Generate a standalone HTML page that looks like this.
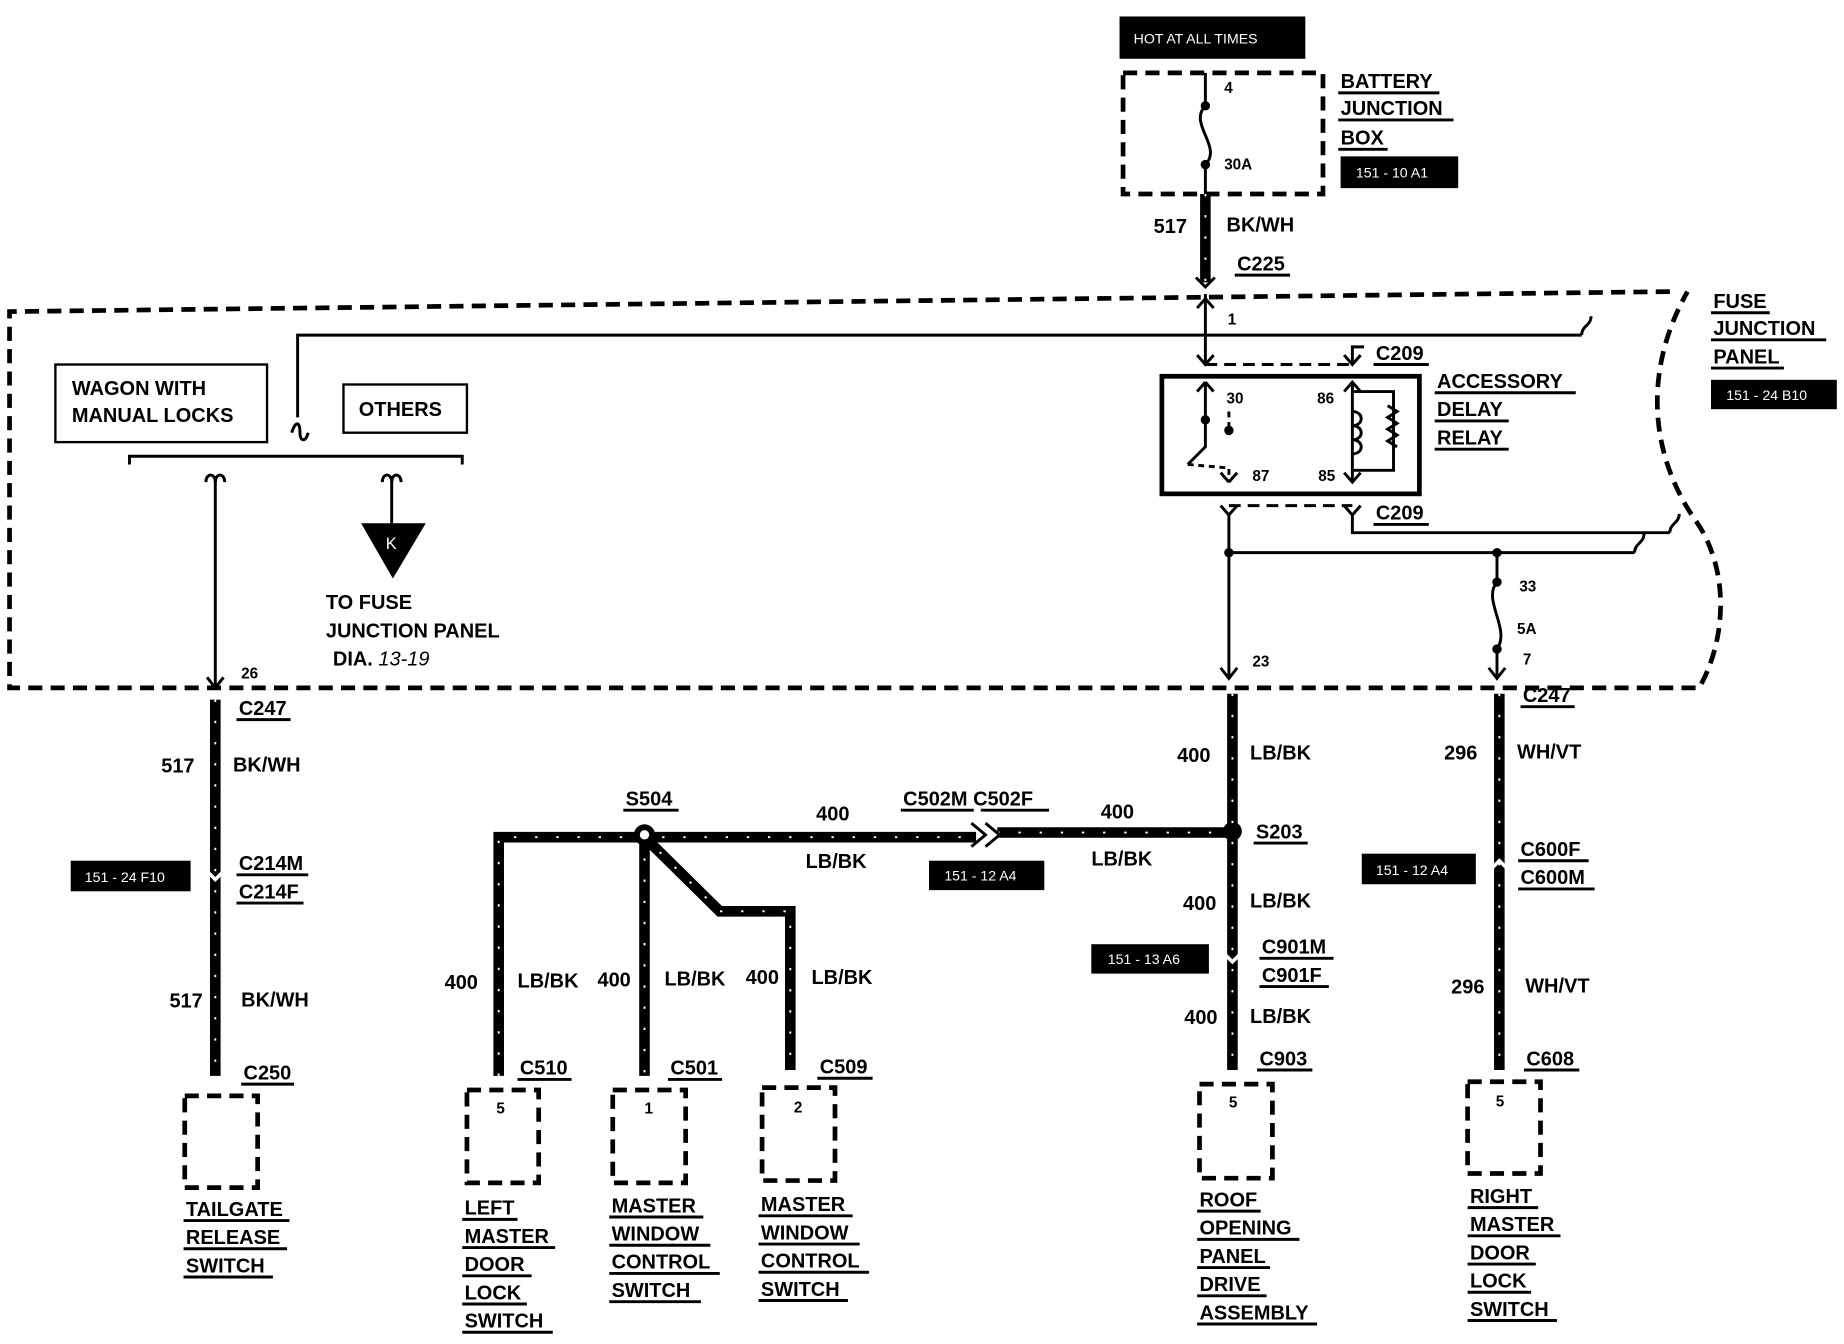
<!DOCTYPE html>
<html><head><meta charset="utf-8"><style>
html,body{margin:0;padding:0;background:#fff;}
svg{display:block}
text{font-family:"Liberation Sans",Arial,sans-serif;font-weight:bold;fill:#000;}
.t{font-size:17px;}
.s{font-size:13px;}
.w{fill:#fff;font-size:12px;font-weight:normal;}
.wire{stroke:#000;stroke-width:9;fill:none;}
.dash{stroke:#fff;stroke-width:1.6;stroke-dasharray:2 16;fill:none;}
.thin{stroke:#000;stroke-width:2.5;fill:none;}
.db{stroke:#000;stroke-width:4;stroke-dasharray:12 7;fill:none;}
</style></head><body>
<svg width="1844" height="1344" viewBox="0 0 1568 1143" xmlns="http://www.w3.org/2000/svg">
<rect x="952" y="14" width="158" height="36" fill="#000"/>
<text x="964" y="37" class="w">HOT AT ALL TIMES</text>
<rect x="955" y="62" width="170" height="103" class="db"/>
<path d="M1025 62 V90 M1025 140 V240" class="thin"/>
<path d="M1025 90 C1010 105 1040 125 1025 140" class="thin"/>
<circle cx="1025" cy="90" r="4"/><circle cx="1025" cy="140" r="4"/>
<text x="1041" y="79" class="s">4</text><text x="1041" y="144" class="s">30A</text>
<text x="1140" y="75" class="t">BATTERY</text><text x="1140" y="98" class="t">JUNCTION</text><text x="1140" y="123" class="t">BOX</text>
<path d="M1138 79H1224 M1138 102H1236 M1138 127H1180" class="thin" stroke-width="1.5"/>
<rect x="1140" y="133" width="100" height="27" fill="#000"/><text x="1153" y="151" class="w">151 - 10 A1</text>
<path d="M1025 165V240" class="wire"/><path d="M1025 165V240" class="dash"/>
<text x="981" y="198" class="t">517</text><text x="1043" y="197" class="t">BK/WH</text>
<text x="1052" y="230" class="t">C225</text><path d="M1050 234H1097" class="thin" stroke-width="1.5"/>
<path d="M1017 236 L1025 244 L1033 236" class="thin"/>
<path d="M1420 248 L8 265 V585 H1445 C1470 540 1470 480 1440 440 C1400 380 1400 310 1435 248" class="db"/>
<text x="1457" y="262" class="t">FUSE</text><text x="1457" y="285" class="t">JUNCTION</text><text x="1457" y="309" class="t">PANEL</text>
<path d="M1455 266H1505 M1455 289H1553 M1455 313H1517" class="thin" stroke-width="1.5"/>
<rect x="1455" y="323" width="107" height="25" fill="#000"/><text x="1468" y="340" class="w">151 - 24 B10</text>
<path d="M1025 250 V310" class="thin"/><path d="M1018 262 L1025 254 L1032 262" class="thin"/>
<text x="1044" y="276" class="s">1</text>
<path d="M253 355 V285 H1345" class="thin"/><path d="M1345 285 c0 -8 8 -8 8 -16" class="thin"/>
<path d="M248 368 c3 -10 7 -10 7 0 c0 8 5 8 7 0" class="thin"/>
<path d="M1025 310 H1150" class="thin" stroke-dasharray="10 6"/>
<path d="M1150 310 V295 H1160" class="thin"/>
<path d="M1018 302 L1025 310 L1032 302 M1143 302 L1150 310 L1157 302" class="thin"/>
<text x="1170" y="306" class="t">C209</text><path d="M1168 310H1215" class="thin" stroke-width="1.5"/>
<rect x="988" y="320" width="219" height="100" fill="none" stroke="#000" stroke-width="4"/>
<path d="M1025 325 V380 L1010 395 M1025 325 L1018 333 M1025 325 L1032 333" class="thin"/>
<circle cx="1025" cy="357" r="4"/><circle cx="1045" cy="366" r="4"/>
<path d="M1045 350 V366 M1010 395 L1045 398 V410" class="thin" stroke-dasharray="5 4"/>
<path d="M1045 410 L1038 402 M1045 410 L1052 402" class="thin"/>
<path d="M1150 325 V410 M1150 333 H1185 V400 H1150" class="thin"/>
<path d="M1150 350 c10 0 10 12 0 12 c10 0 10 12 0 12 c10 0 10 12 0 12" class="thin"/>
<path d="M1180 345 l8 5 l-8 5 l8 5 l-8 5 l8 5 l-8 5 l8 5" class="thin" stroke-width="1.5"/>
<path d="M1143 333 L1150 325 L1157 333 M1143 402 L1150 410 L1157 402" class="thin"/>
<text x="1043" y="343" class="s">30</text><text x="1120" y="343" class="s">86</text>
<text x="1065" y="409" class="s">87</text><text x="1121" y="409" class="s">85</text>
<text x="1222" y="330" class="t">ACCESSORY</text><text x="1222" y="354" class="t">DELAY</text><text x="1222" y="378" class="t">RELAY</text>
<path d="M1220 334H1340 M1220 358H1283 M1220 382H1283" class="thin" stroke-width="1.5"/>
<path d="M1045 430 H1150" class="thin" stroke-dasharray="10 6"/>
<path d="M1038 430 L1045 438 L1052 430 M1143 430 L1150 438 L1157 430" class="thin"/>
<path d="M1150 438 V453 H1420" class="thin"/><path d="M1420 453 c0 -8 8 -8 8 -16" class="thin"/>
<text x="1170" y="442" class="t">C209</text><path d="M1168 446H1215" class="thin" stroke-width="1.5"/>
<path d="M1045 438 V575 M1045 470 H1390" class="thin"/><path d="M1390 470 c0 -8 8 -8 8 -16" class="thin"/>
<circle cx="1045" cy="470" r="4"/><circle cx="1273" cy="470" r="4"/>
<path d="M1273 470 V495 M1273 552 V575" class="thin"/>
<path d="M1273 495 C1260 510 1285 535 1273 552" class="thin"/>
<circle cx="1273" cy="495" r="4"/><circle cx="1273" cy="552" r="4"/>
<text x="1292" y="503" class="s">33</text><text x="1290" y="539" class="s">5A</text><text x="1295" y="565" class="s">7</text>
<text x="1065" y="567" class="s">23</text>
<path d="M1038 568 L1045 577 L1052 568 M1266 568 L1273 577 L1280 568" class="thin"/>
<rect x="47" y="310" width="180" height="66" fill="none" stroke="#000" stroke-width="2"/>
<text x="61" y="336" class="t">WAGON WITH</text><text x="61" y="359" class="t">MANUAL LOCKS</text>
<rect x="292" y="327" width="105" height="41" fill="none" stroke="#000" stroke-width="2"/>
<text x="305" y="354" class="t">OTHERS</text>
<path d="M110 395 V388 H393 V395" class="thin"/>
<path d="M175 410 c0 -8 8 -8 8 0 c0 -8 8 -8 8 0 M325 410 c0 -8 8 -8 8 0 c0 -8 8 -8 8 0" class="thin"/>
<path d="M183 408 V585 M176 576 L183 585 L190 576 M333 408 V445" class="thin"/>
<polygon points="307,445 362,445 334,492" fill="#000"/><text x="328" y="467" class="w" style="font-size:14px">K</text>
<text x="205" y="577" class="s">26</text>
<text x="277" y="518" class="t">TO FUSE</text><text x="277" y="542" class="t">JUNCTION PANEL</text><text x="283" y="566" class="t">DIA. <tspan font-style="italic" font-weight="normal">13-19</tspan></text>
<path d="M183 595 V915" class="wire"/><path d="M183 595 V915" class="dash"/>
<text x="203" y="608" class="t">C247</text><path d="M201 612H247" class="thin" stroke-width="1.5"/>
<text x="137" y="657" class="t">517</text><text x="198" y="656" class="t">BK/WH</text>
<rect x="60" y="732" width="102" height="26" fill="#000"/><text x="72" y="750" class="w">151 - 24 F10</text>
<path d="M175 740 L183 748 L191 740" stroke="#fff" stroke-width="3" fill="none"/>
<text x="203" y="740" class="t">C214M</text><text x="203" y="764" class="t">C214F</text>
<path d="M201 744H262 M201 768H258" class="thin" stroke-width="1.5"/>
<text x="144" y="857" class="t">517</text><text x="205" y="856" class="t">BK/WH</text>
<text x="207" y="918" class="t">C250</text><path d="M205 922H250" class="thin" stroke-width="1.5"/>
<rect x="157" y="932" width="62" height="78" class="db"/>
<text x="158" y="1034" class="t">TAILGATE</text><text x="158" y="1058" class="t">RELEASE</text><text x="158" y="1082" class="t">SWITCH</text>
<path d="M156 1038H246 M156 1062H244 M156 1086H232" class="thin" stroke-width="1.5"/>
<path d="M424 915 V712 H548 H830 M848 708 H1048 M548 712 V915 M548 712 L612 775 H672 V910" class="wire"/>
<path d="M424 915 V712 H548 H830 M848 708 H1048 M548 712 V915 M548 712 L612 775 H672 V910" class="dash"/>
<path d="M826 700 L838 710 L826 720 M838 700 L850 710 L838 720" class="thin" stroke-width="3"/>
<circle cx="548" cy="710" r="9" fill="#000"/><circle cx="548" cy="710" r="4" fill="#fff"/>
<circle cx="1048" cy="707" r="8" fill="#000"/>
<text x="532" y="685" class="t">S504</text><path d="M530 689H577" class="thin" stroke-width="1.5"/>
<text x="694" y="698" class="t">400</text><text x="685" y="738" class="t">LB/BK</text>
<text x="768" y="685" class="t">C502M C502F</text><path d="M766 689H828 M834 689H892" class="thin" stroke-width="1.5"/>
<rect x="790" y="732" width="98" height="25" fill="#000"/><text x="803" y="749" class="w">151 - 12 A4</text>
<text x="936" y="696" class="t">400</text><text x="928" y="736" class="t">LB/BK</text>
<text x="1068" y="713" class="t">S203</text><path d="M1066 717H1112" class="thin" stroke-width="1.5"/>
<text x="378" y="841" class="t">400</text><text x="440" y="840" class="t">LB/BK</text>
<text x="508" y="839" class="t">400</text><text x="565" y="838" class="t">LB/BK</text>
<text x="634" y="837" class="t">400</text><text x="690" y="837" class="t">LB/BK</text>
<text x="442" y="914" class="t">C510</text><path d="M440 918H486" class="thin" stroke-width="1.5"/>
<text x="570" y="914" class="t">C501</text><path d="M568 918H614" class="thin" stroke-width="1.5"/>
<text x="697" y="913" class="t">C509</text><path d="M695 917H742" class="thin" stroke-width="1.5"/>
<rect x="397" y="927" width="61" height="79" class="db"/><text x="422" y="947" class="s">5</text>
<rect x="521" y="927" width="62" height="79" class="db"/><text x="548" y="947" class="s">1</text>
<rect x="648" y="925" width="62" height="79" class="db"/><text x="675" y="946" class="s">2</text>
<text x="395" y="1033" class="t">LEFT</text><text x="395" y="1057" class="t">MASTER</text><text x="395" y="1081" class="t">DOOR</text><text x="395" y="1105" class="t">LOCK</text><text x="395" y="1129" class="t">SWITCH</text>
<path d="M393 1037H440 M393 1061H472 M393 1085H452 M393 1109H448 M393 1133H470" class="thin" stroke-width="1.5"/>
<text x="520" y="1031" class="t">MASTER</text><text x="520" y="1055" class="t">WINDOW</text><text x="520" y="1079" class="t">CONTROL</text><text x="520" y="1103" class="t">SWITCH</text>
<path d="M518 1035H598 M518 1059H604 M518 1083H612 M518 1107H596" class="thin" stroke-width="1.5"/>
<text x="647" y="1030" class="t">MASTER</text><text x="647" y="1054" class="t">WINDOW</text><text x="647" y="1078" class="t">CONTROL</text><text x="647" y="1102" class="t">SWITCH</text>
<path d="M645 1034H725 M645 1058H731 M645 1082H739 M645 1106H721" class="thin" stroke-width="1.5"/>
<path d="M1048 590 V910" class="wire"/><path d="M1048 590 V910" class="dash"/>
<text x="1001" y="648" class="t">400</text><text x="1063" y="646" class="t">LB/BK</text>
<text x="1006" y="774" class="t">400</text><text x="1063" y="772" class="t">LB/BK</text>
<rect x="928" y="803" width="100" height="25" fill="#000"/><text x="942" y="820" class="w">151 - 13 A6</text>
<path d="M1040 810 L1048 818 L1056 810" stroke="#fff" stroke-width="3" fill="none"/>
<text x="1073" y="811" class="t">C901M</text><text x="1073" y="835" class="t">C901F</text>
<path d="M1071 815H1134 M1071 839H1130" class="thin" stroke-width="1.5"/>
<text x="1007" y="871" class="t">400</text><text x="1063" y="870" class="t">LB/BK</text>
<text x="1071" y="906" class="t">C903</text><path d="M1069 910H1116" class="thin" stroke-width="1.5"/>
<rect x="1020" y="922" width="62" height="80" class="db"/><text x="1045" y="942" class="s">5</text>
<text x="1020" y="1026" class="t">ROOF</text><text x="1020" y="1050" class="t">OPENING</text><text x="1020" y="1074" class="t">PANEL</text><text x="1020" y="1098" class="t">DRIVE</text><text x="1020" y="1122" class="t">ASSEMBLY</text>
<path d="M1018 1030H1072 M1018 1054H1105 M1018 1078H1080 M1018 1102H1077 M1018 1126H1120" class="thin" stroke-width="1.5"/>
<path d="M1275 590 V910" class="wire"/><path d="M1275 590 V910" class="dash"/>
<text x="1295" y="597" class="t">C247</text><path d="M1293 601H1339" class="thin" stroke-width="1.5"/>
<text x="1228" y="646" class="t">296</text><text x="1290" y="645" class="t">WH/VT</text>
<rect x="1158" y="726" width="97" height="26" fill="#000"/><text x="1170" y="744" class="w">151 - 12 A4</text>
<path d="M1267 740 L1275 732 L1283 740" stroke="#fff" stroke-width="3" fill="none"/>
<text x="1293" y="728" class="t">C600F</text><text x="1293" y="752" class="t">C600M</text>
<path d="M1291 732H1351 M1291 756H1356" class="thin" stroke-width="1.5"/>
<text x="1234" y="845" class="t">296</text><text x="1297" y="844" class="t">WH/VT</text>
<text x="1298" y="906" class="t">C608</text><path d="M1296 910H1343" class="thin" stroke-width="1.5"/>
<rect x="1248" y="920" width="62" height="78" class="db"/><text x="1272" y="941" class="s">5</text>
<text x="1250" y="1023" class="t">RIGHT</text><text x="1250" y="1047" class="t">MASTER</text><text x="1250" y="1071" class="t">DOOR</text><text x="1250" y="1095" class="t">LOCK</text><text x="1250" y="1119" class="t">SWITCH</text>
<path d="M1248 1027H1308 M1248 1051H1327 M1248 1075H1306 M1248 1099H1302 M1248 1123H1324" class="thin" stroke-width="1.5"/>
</svg>
</body></html>
